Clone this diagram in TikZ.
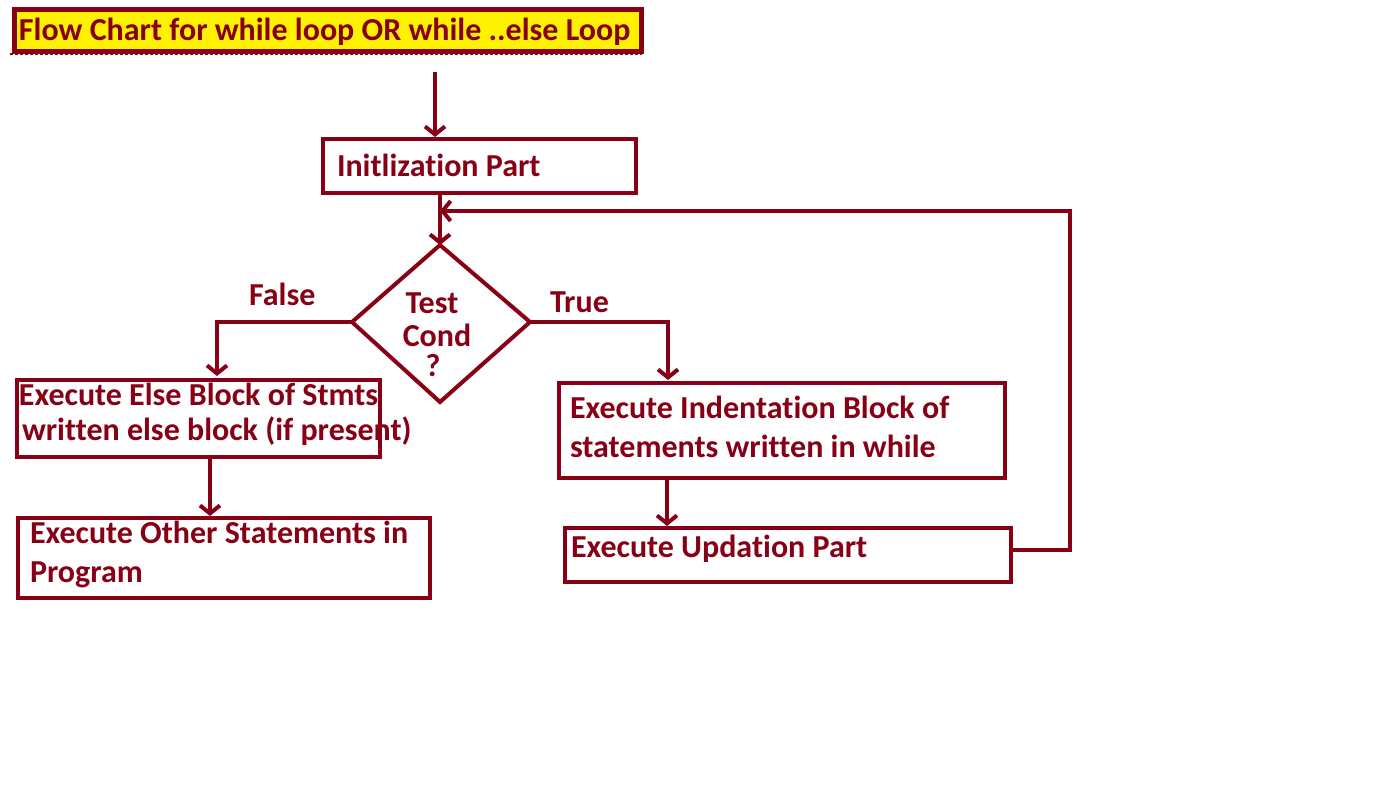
\documentclass[tikz,border=0pt]{standalone}
\usepackage{fontspec}
\setmainfont{Carlito}[Ligatures=CommonOff]
\usetikzlibrary{arrows.meta,shapes.geometric}
\definecolor{dred}{RGB}{136,0,21}
\definecolor{tyellow}{RGB}{255,242,0}
\begin{document}
\begin{tikzpicture}[x=1pt,y=-1pt,
  line width=4pt, draw=dred,
  box/.style={draw=dred, line width=4pt, rectangle, anchor=north west, inner sep=0pt},
  txt/.style={text=dred, font=\fontsize{32}{36}\selectfont\bfseries, anchor=base west, inner sep=0pt},
  arr/.style={draw=dred, line width=4pt, -{Straight Barb[length=8pt,width=20pt,line width=4pt]}},
  ln/.style={draw=dred, line width=4pt}]
\useasboundingbox (0,0) rectangle (1398,800);
% title
\node[box, line width=5pt, fill=tyellow, minimum width=627pt, minimum height=42pt] (title) at (11.5,7.5) {};
\draw[dred, line width=2pt, dash pattern=on 3pt off 2pt] (10,54) -- (642,54);
\node[txt] (titletext) at (17,40.5) {Flow Chart for while loop OR while ..else Loop};
% start arrow
\coordinate (start) at (435,72);
% init
\node[box, minimum width=313pt, minimum height=54pt] (init) at (321,137) {};
\node[txt] (inittext) at (335,176) {Initlization Part};
% diamond
\coordinate (dtop) at (440,245);
\coordinate (dleft) at (352,322);
\coordinate (dright) at (530,322);
\coordinate (dbot) at (440,402);
\draw[ln, line join=miter] (dtop) -- (dright) -- (dbot) -- (dleft) -- cycle;
\node[txt, anchor=base] (t1) at (432,313) {Test};
\node[txt, anchor=base] (t2) at (437,346) {Cond};
\node[txt, anchor=base] (t3) at (433,376) {?};
% labels
\node[txt] (false) at (247,305) {False};
\node[txt] (true) at (548,312) {True};
% else box
\node[box, minimum width=363pt, minimum height=77pt] (else) at (14.5,378) {};
\node[txt] (e1) at (17,405) {Execute Else Block of Stmts};
\node[txt] (e2) at (20,440) {written else block (if present)};
% other box
\node[box, minimum width=412pt, minimum height=80pt] (other) at (16,516) {};
\node[txt] (o1) at (28,543) {Execute Other Statements in};
\node[txt] (o2) at (28,582) {Program};
% indentation box
\node[box, minimum width=446pt, minimum height=95pt] (indent) at (557,381) {};
\node[txt] (i1) at (568,418) {Execute Indentation Block of};
\node[txt] (i2) at (568,457) {statements written in while};
% updation box
\node[box, minimum width=446pt, minimum height=54pt] (upd) at (563,526) {};
\node[txt] (u1) at (569,557) {Execute Updation Part};
% loop coords
\coordinate (lb) at (1070,550);
\coordinate (lt) at (1070,211);
\coordinate (lend) at (440,211);
% connectors
\draw[arr] (start) -- (init.north -| start);
\draw[arr] (init.south -| dtop) -- (dtop);
\draw[arr] (upd.east |- lb) -- (lb) -- (lt) -- (lend);
\draw[arr] (dleft) -- (217,322) -- (217,376);
\draw[arr] (dright) -- (668,322) -- (668,380);
\draw[arr] (else.south -| 210,0) -- (other.north -| 210,0);
\draw[arr] (indent.south -| 667,0) -- (upd.north -| 667,0);
\end{tikzpicture}
\end{document}
